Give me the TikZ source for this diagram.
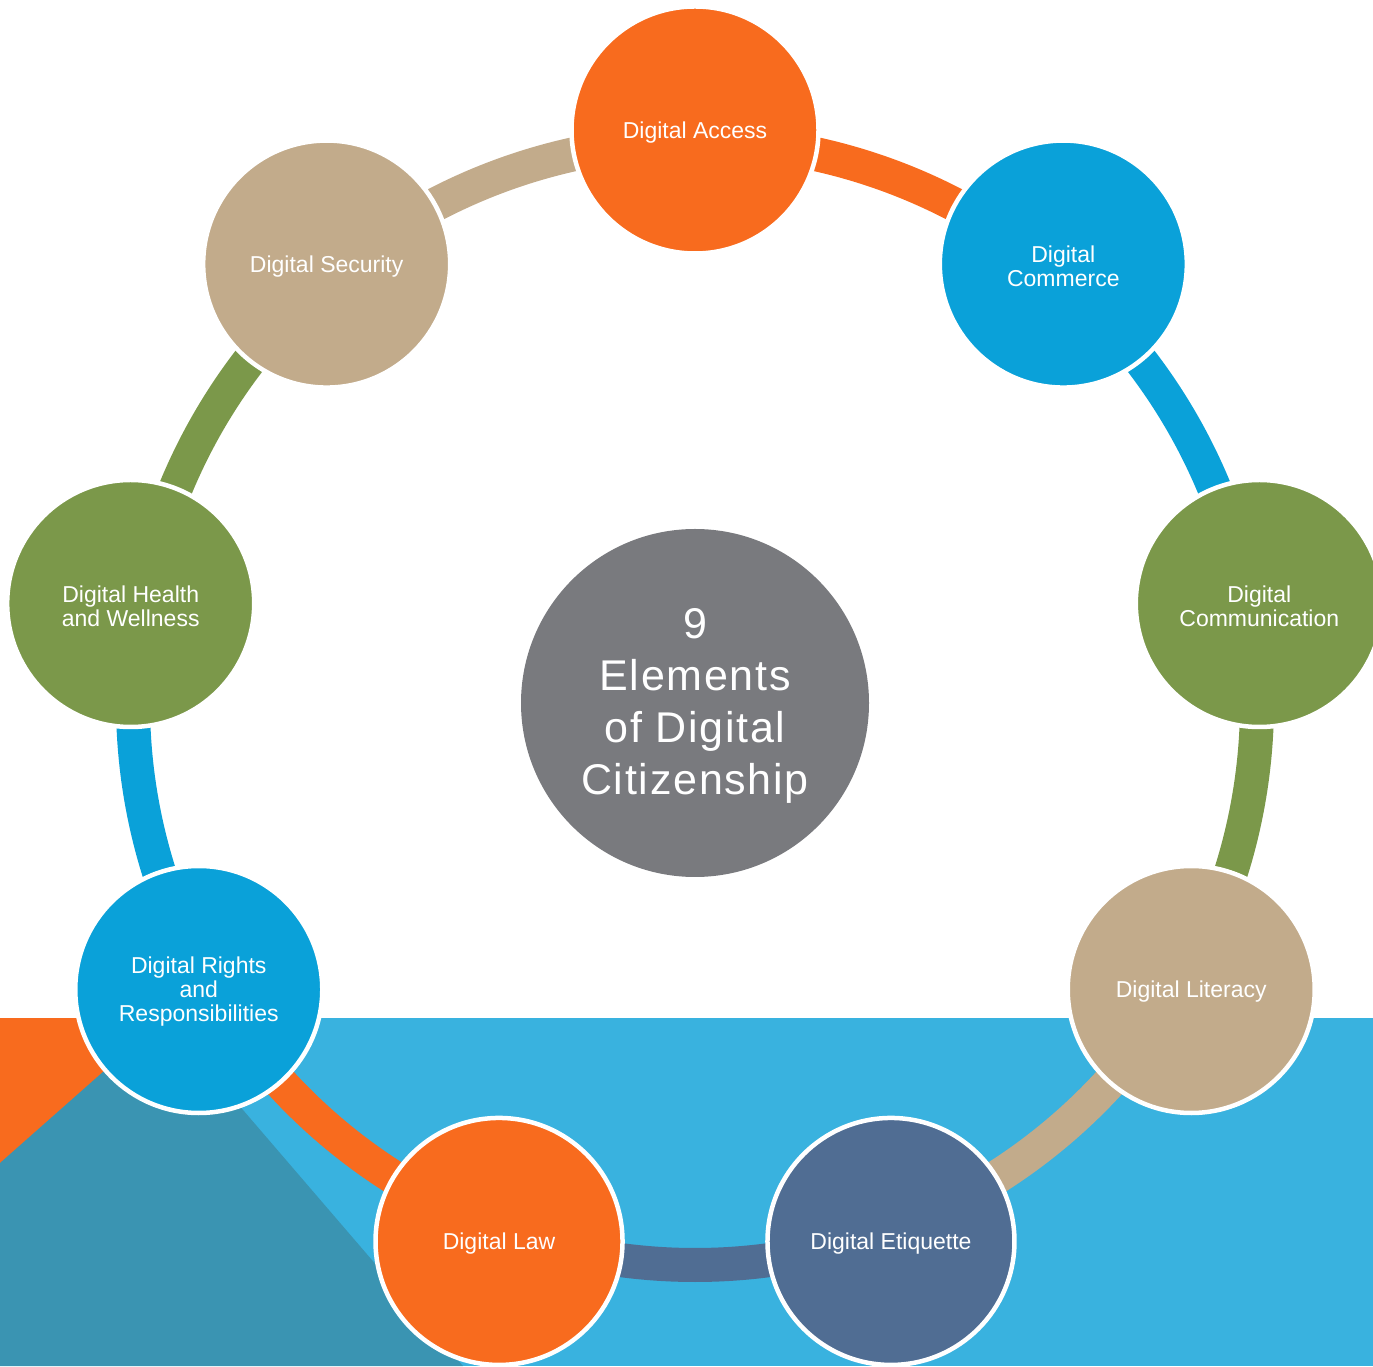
\documentclass[tikz,border=0pt]{standalone}
\usepackage{fontspec}
\setmainfont{Liberation Sans}
\newfontfamily\bigfont[LetterSpace=4]{Liberation Sans}
\usetikzlibrary{calc}
\definecolor{corange}{HTML}{F86B1E}
\definecolor{cblue}{HTML}{0AA1D9}
\definecolor{cgreen}{HTML}{7B984A}
\definecolor{ctan}{HTML}{C2AB8B}
\definecolor{cslate}{HTML}{506D93}
\definecolor{cgray}{HTML}{797A7E}
\definecolor{bgblue}{HTML}{39B2DF}
\definecolor{bgteal}{HTML}{3A94B2}
\tikzset{
  elem/.style={circle, draw=white, line width=4.5pt, minimum size=247pt, inner sep=0pt},
  lbl/.style={text=white, align=center, inner sep=0pt, yshift=-2.5pt,
    font=\fontsize{23}{24}\selectfont},
  hub/.style={circle, fill=cgray, minimum size=348pt, inner sep=0pt},
  hublbl/.style={text=white, align=center, inner sep=0pt, yshift=-3pt,
    font=\bigfont\fontsize{43}{52}\selectfont},
  ringarc/.style={line width=34pt}
}
\begin{document}
\begin{tikzpicture}[x=1pt,y=1pt]
\useasboundingbox (0,0) rectangle (1373,1366);
\clip (0,0) rectangle (1373,1366);
% background shapes
\fill[bgblue] (164,0) rectangle (1373,348);
\fill[corange] (0,0) rectangle (164,348);
\fill[bgteal] (0,203) -- (164,348) -- (463,0) -- (0,0) -- cycle;
\coordinate (C) at (695,663);
% ring arcs
\foreach \a/\c in {90/corange, 50/cblue, 10/cgreen, -30/ctan, -70/cslate, -110/corange, -150/cblue, -190/cgreen, -230/ctan}{
  \draw[ringarc, \c] (C) ++(\a:562) arc[start angle=\a, end angle=\a-40, radius=562];
}
% centre
\node[hub, label={[hublbl]center:{9\\Elements\\of Digital\\Citizenship}}] (hub) at (C) {};
% elements
\node[elem, fill=corange, label={[lbl]center:{Digital Access}}] (access) at ($(C)+(90:573)$) {};
\node[elem, fill=cblue, label={[lbl]center:{Digital\\Commerce}}] (commerce) at ($(C)+(50:573)$) {};
\node[elem, fill=cgreen, label={[lbl]center:{Digital\\Communication}}] (communication) at ($(C)+(10:573)$) {};
\node[elem, fill=ctan, label={[lbl]center:{Digital Literacy}}] (literacy) at ($(C)+(-30:573)$) {};
\node[elem, fill=cslate, label={[lbl]center:{Digital Etiquette}}] (etiquette) at ($(C)+(-70:573)$) {};
\node[elem, fill=corange, label={[lbl]center:{Digital Law}}] (law) at ($(C)+(-110:573)$) {};
\node[elem, fill=cblue, label={[lbl]center:{Digital Rights\\and\\Responsibilities}}] (rights) at ($(C)+(-150:573)$) {};
\node[elem, fill=cgreen, label={[lbl]center:{Digital Health\\and Wellness}}] (health) at ($(C)+(170:573)$) {};
\node[elem, fill=ctan, label={[lbl]center:{Digital Security}}] (security) at ($(C)+(130:573)$) {};
\end{tikzpicture}
\end{document}
